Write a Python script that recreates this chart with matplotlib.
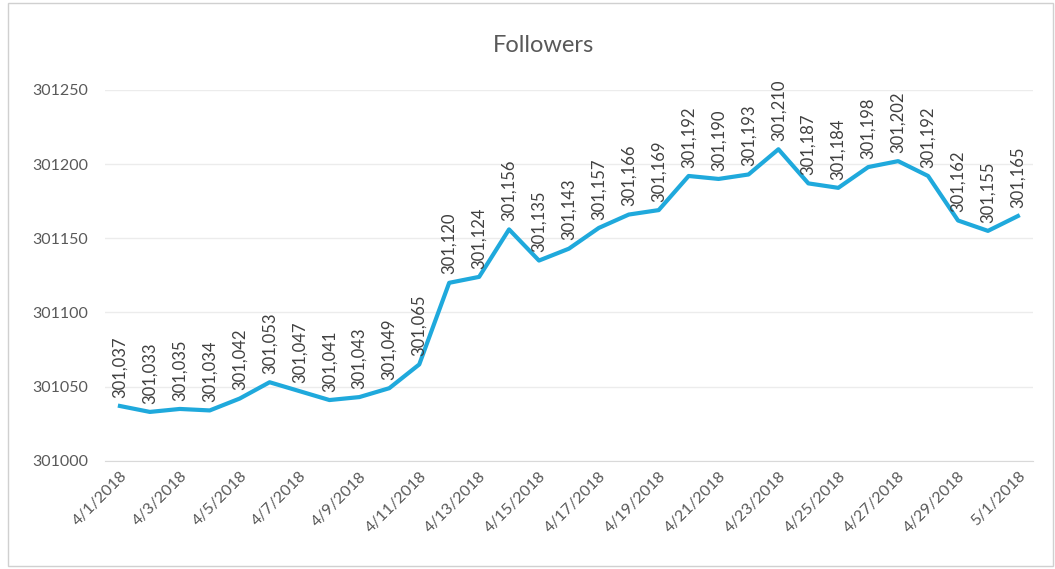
import matplotlib.pyplot as plt
from matplotlib.patches import Rectangle

# Data
dates = ["4/1/2018", "4/2/2018", "4/3/2018", "4/4/2018", "4/5/2018", "4/6/2018",
         "4/7/2018", "4/8/2018", "4/9/2018", "4/10/2018", "4/11/2018", "4/12/2018",
         "4/13/2018", "4/14/2018", "4/15/2018", "4/16/2018", "4/17/2018", "4/18/2018",
         "4/19/2018", "4/20/2018", "4/21/2018", "4/22/2018", "4/23/2018", "4/24/2018",
         "4/25/2018", "4/26/2018", "4/27/2018", "4/28/2018", "4/29/2018", "4/30/2018",
         "5/1/2018"]
followers = [301037, 301033, 301035, 301034, 301042, 301053, 301047, 301041, 301043,
             301049, 301065, 301120, 301124, 301156, 301135, 301143, 301157, 301166,
             301169, 301192, 301190, 301193, 301210, 301187, 301184, 301198, 301202,
             301192, 301162, 301155, 301165]
y_ticks = [301000, 301050, 301100, 301150, 301200, 301250]

plt.rcParams["font.family"] = ["Lato", "DejaVu Sans"]

fig = plt.figure(figsize=(10.55, 5.69), dpi=100)
ax = fig.add_axes([0.0995, 0.19, 0.8795, 0.652])

# Light frame around the whole chart
fig.patches.append(Rectangle((0.008, 0.006), 0.99, 0.988, transform=fig.transFigure,
                             fill=False, edgecolor="#d0d0d0", linewidth=1))

x = list(range(len(dates)))
ax.plot(x, followers, color="#1fa9dc", linewidth=3, solid_joinstyle="round")

# Data labels, rotated
for xi, v in zip(x, followers):
    ax.annotate(f"{v:,}", (xi, v), xytext=(0, 6), textcoords="offset points",
                rotation=90, ha="center", va="bottom", fontsize=12, color="#404040")

ax.set_xlim(-0.5, len(dates) - 0.5)
ax.set_ylim(301000, 301250)
ax.set_yticks(y_ticks)
ax.set_yticklabels([str(t) for t in y_ticks])
ax.set_xticks(x[::2])
ax.set_xticklabels(dates[::2], rotation=45, ha="right", rotation_mode="anchor")

ax.grid(axis="y", color="#ececec", linewidth=1)
ax.set_axisbelow(True)
for s in ["top", "right", "left"]:
    ax.spines[s].set_visible(False)
ax.spines["bottom"].set_color("#d9d9d9")
ax.tick_params(axis="y", length=0, labelsize=11.5, labelcolor="#595959", pad=12)
ax.tick_params(axis="x", length=0, labelsize=11.5, labelcolor="#595959", pad=6)

fig.text(0.515, 0.92, "Followers", ha="center", va="center", fontsize=17, color="#595959")

fig.savefig("out.png", dpi=100)
